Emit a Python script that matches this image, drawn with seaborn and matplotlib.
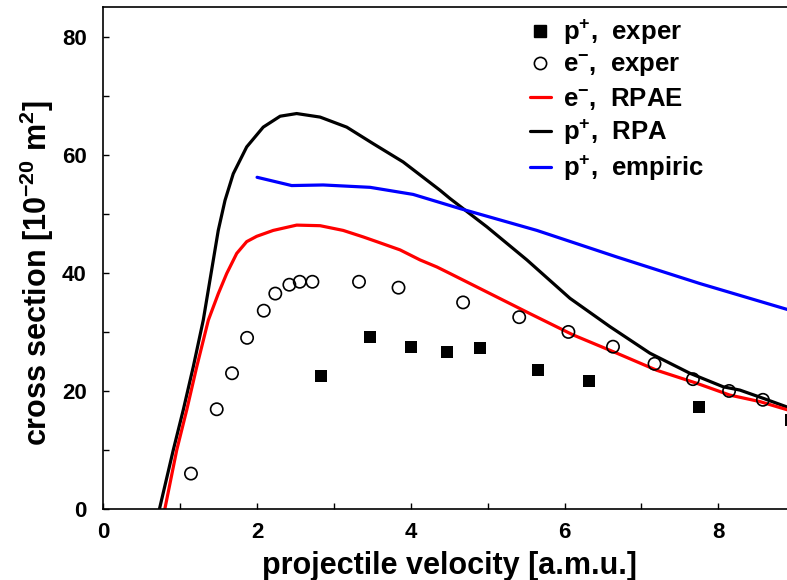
import matplotlib
matplotlib.use("Agg")
import matplotlib.pyplot as plt
import seaborn as sns
from matplotlib.lines import Line2D

# projectile velocity (a.m.u.) and cross sections (10^-20 m^2)
rpa_v = [0.73, 0.91, 1.04, 1.17, 1.30, 1.495, 1.583, 1.69, 1.865, 2.08, 2.30,
         2.515, 2.82, 3.166, 3.51, 3.90, 4.38, 4.51, 4.99, 5.51, 6.07, 6.59,
         7.11, 7.63, 8.065, 8.28, 8.585, 8.89, 9.00]
rpa_sigma = [0.0, 10.0, 16.8, 24.1, 32.0, 47.2, 52.3, 56.8, 61.35, 64.7, 66.55,
             67.0, 66.4, 64.7, 61.9, 58.8, 54.0, 52.6, 47.8, 42.2, 35.7, 30.9,
             26.4, 23.0, 20.7, 20.15, 18.75, 17.3, 16.9]

rpae_v = [0.80, 0.955, 1.085, 1.215, 1.366, 1.496, 1.605, 1.735, 1.865, 1.995,
          2.21, 2.515, 2.82, 3.12, 3.38, 3.556, 3.86, 4.12, 4.34, 4.51, 5.03,
          5.55, 6.11, 6.68, 7.20, 7.72, 8.15, 8.54, 8.90, 9.00]
rpae_sigma = [0.0, 10.0, 16.8, 24.1, 32.0, 36.5, 39.9, 43.3, 45.3, 46.2,
              47.2, 48.1, 48.0, 47.2, 46.1, 45.3, 43.9, 42.2, 41.0, 39.9, 36.5,
              33.1, 29.5, 26.4, 23.5, 21.3, 19.3, 18.2, 16.8, 16.4]

emp_v = [2.00, 2.45, 2.86, 3.47, 4.03, 4.64, 5.64, 6.68, 7.76, 8.90, 9.00]
emp_sigma = [56.2, 54.8, 54.9, 54.5, 53.3, 50.9, 47.2, 42.7, 38.2, 33.8, 33.4]

e_exp_v = [1.14, 1.475, 1.674, 1.87, 2.087, 2.237, 2.42, 2.555, 2.72, 3.326, 3.84,
           4.68, 5.41, 6.05, 6.63, 7.17, 7.67, 8.14, 8.58]
e_exp_sigma = [6.0, 16.9, 23.0, 29.0, 33.6, 36.5, 38.0, 38.5, 38.5, 38.5, 37.5,
               35.0, 32.5, 30.0, 27.5, 24.6, 22.0, 20.0, 18.5]

p_exp_v = [2.83, 3.47, 4.00, 4.475, 4.90, 5.66, 6.32, 7.75, 8.95]
p_exp_sigma = [22.6, 29.2, 27.4, 26.6, 27.2, 23.5, 21.7, 17.35, 15.1]

x_ticks = [0, 2, 4, 6, 8]
y_ticks = [0, 20, 40, 60, 80]

legend_labels = [r"p$^{+}$,  exper", r"e$^{-}$,  exper", r"e$^{-}$,  RPAE",
                 r"p$^{+}$,  RPA", r"p$^{+}$,  empiric"]

sns.set_theme(style="white")
plt.rcParams["font.family"] = ["Liberation Sans", "DejaVu Sans"]
plt.rcParams["font.weight"] = "bold"
plt.rcParams["axes.labelweight"] = "bold"
plt.rcParams["text.color"] = "black"
plt.rcParams["axes.labelcolor"] = "black"
plt.rcParams["xtick.color"] = "black"
plt.rcParams["ytick.color"] = "black"
plt.rcParams["mathtext.fontset"] = "custom"
plt.rcParams["mathtext.rm"] = "Liberation Sans:bold"
plt.rcParams["mathtext.bf"] = "Liberation Sans:bold"
plt.rcParams["mathtext.it"] = "Liberation Sans:bold"
plt.rcParams["mathtext.default"] = "rm"

fig = plt.figure(figsize=(7.87, 5.8), dpi=100)
ax = fig.add_axes([0.1313, 0.1224, 1.0104 - 0.1313, 0.9874 - 0.1224])

lw = 2.3
line_kw = dict(lw=lw, sort=False, estimator=None, ax=ax,
               solid_joinstyle="round", solid_capstyle="round")
sns.lineplot(x=rpa_v, y=rpa_sigma, color="black", **line_kw)
sns.lineplot(x=rpae_v, y=rpae_sigma, color="red", **line_kw)
sns.lineplot(x=emp_v, y=emp_sigma, color="blue", **line_kw)

sns.scatterplot(x=e_exp_v, y=e_exp_sigma, marker="o", s=78, color="black",
                edgecolor="black", linewidth=1.2, ax=ax, zorder=4)
ax.collections[-1].set_facecolor("none")
sns.scatterplot(x=p_exp_v, y=p_exp_sigma, marker="s", s=66, color="black",
                edgecolor="black", linewidth=0, ax=ax, zorder=4)

ax.set_xlim(0, 9)
ax.set_ylim(0, 85)
ax.set_xticks(x_ticks)
ax.set_yticks(y_ticks)
ax.set_xticks([1, 3, 5, 7], minor=True)
ax.set_yticks([10, 30, 50, 70], minor=True)
ax.tick_params(which="both", direction="in", length=4.5, width=1.0,
               color="black", bottom=True, left=True, top=False, right=False)
ax.tick_params(axis="x", which="major", labelsize=16, pad=9)
ax.tick_params(axis="y", which="major", labelsize=16, pad=12)
for lab in ax.get_xticklabels() + ax.get_yticklabels():
    lab.set_fontweight("bold")
    lab.set_color("black")

for sp in ax.spines.values():
    sp.set_color("black")
    sp.set_linewidth(1.2)

ax.set_xlabel("projectile velocity [a.m.u.]", fontsize=22, fontweight="bold",
              labelpad=6, color="black")
ax.set_ylabel(r"cross section [10$^{-20}$ m$^{2}$]", fontsize=22,
              fontweight="bold", color="black")
ax.yaxis.set_label_coords(-0.069, 0.47)

handles = [
    Line2D([], [], ls="none", marker="s", color="black", markersize=8),
    Line2D([], [], ls="none", marker="o", markerfacecolor="none",
           markeredgecolor="black", markeredgewidth=1.2, markersize=8.8),
    Line2D([], [], color="red", lw=lw),
    Line2D([], [], color="black", lw=lw),
    Line2D([], [], color="blue", lw=lw),
]
leg = ax.legend(handles, legend_labels, loc="upper left",
                bbox_to_anchor=(530 / 787, 1 - 18 / 580),
                bbox_transform=fig.transFigure, frameon=False, fontsize=18.5,
                handlelength=0.8, handletextpad=0.5, labelspacing=0.24,
                borderpad=0, borderaxespad=0)
for t in leg.get_texts():
    t.set_fontweight("bold")
    t.set_color("black")

fig.savefig("out.png", dpi=100)
